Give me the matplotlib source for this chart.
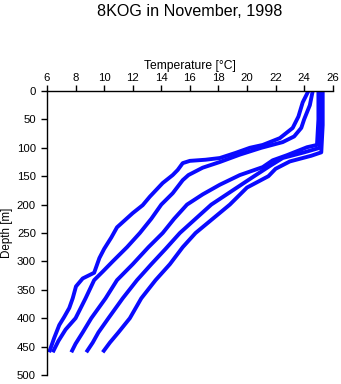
import matplotlib
matplotlib.use("Agg")
import matplotlib.pyplot as plt

plt.rcParams['font.family'] = ['Liberation Sans', 'DejaVu Sans']

title = "8KOG in November, 1998"
xlabel = "Temperature [°C]"
ylabel = "Depth [m]"
xticks = [6, 8, 10, 12, 14, 16, 18, 20, 22, 24, 26]
yticks = [0, 50, 100, 150, 200, 250, 300, 350, 400, 450, 500]

# Profile 1 (leftmost at depth)
t1 = [24.3, 23.9, 23.6, 23.2, 22.3, 21.1, 20.2, 19.2, 18.1, 17.1, 16.0, 15.5, 15.15, 14.8,
      14.1, 13.2, 12.7, 12.0, 10.9, 10.5, 10.0, 9.67, 9.3, 8.5, 8.03, 7.8, 7.56, 7.2, 6.86, 6.5, 6.15]
d1 = [0, 20, 45, 65, 83, 95, 100, 109, 118, 121, 123, 127, 139, 148,
      162, 186, 201, 215, 240, 258, 278, 294, 320, 330, 344, 365, 382, 398, 412, 435, 460]

# Profile 2
t2 = [24.6, 24.4, 24.0, 23.8, 23.3, 22.5, 21.0, 19.5, 18.1, 16.9, 15.9, 15.5, 14.8, 14.0, 13.3,
      12.5, 11.6, 10.6, 9.9, 9.3, 8.7, 8.0, 7.3, 6.8, 6.4]
d2 = [0, 25, 50, 65, 80, 90, 100, 112, 125, 135, 148, 157, 180, 200, 225,
      250, 275, 300, 318, 333, 365, 400, 420, 440, 460]

# Profile 3
t3 = [25.0, 25.0, 24.9, 24.2, 22.8, 21.8, 21.1, 19.5, 18.1, 16.9, 15.8, 14.9, 14.1,
      13.1, 12.0, 10.9, 10.1, 9.1, 8.5, 8.0, 7.7]
d3 = [0, 50, 95, 99, 113, 122, 134, 148, 165, 182, 200, 225, 250,
      275, 305, 333, 365, 400, 425, 445, 460]

# Profile 4
t4 = [25.2, 25.2, 25.1, 24.0, 22.5, 21.6, 20.5, 19.0, 17.5, 16.4, 15.3, 14.3, 13.3,
      12.3, 11.3, 10.3, 9.6, 9.2, 8.75]
d4 = [0, 50, 100, 108, 118, 132, 150, 175, 200, 225, 250, 278, 305,
      333, 365, 400, 425, 443, 460]

# Profile 5 (rightmost at depth)
t5 = [25.3, 25.3, 25.2, 24.5, 23.0, 22.0, 21.5, 20.0, 18.8, 17.6, 16.4, 15.5,
      14.6, 13.6, 12.6, 11.8, 11.0, 10.4, 9.9]
d5 = [0, 60, 108, 114, 124, 137, 150, 170, 200, 225, 250, 275,
      305, 333, 365, 400, 425, 443, 460]

profiles = [(t1, d1), (t2, d2), (t3, d3), (t4, d4), (t5, d5)]

fig = plt.figure(figsize=(3.41, 3.84), dpi=100)
ax = fig.add_axes([47 / 341, 1 - 375 / 384, (332.7 - 47) / 341, (375 - 91) / 384])

for t, d in profiles:
    ax.plot(t, d, color='#0a0aff', lw=2.8, solid_capstyle='butt')

ax.set_xlim(6, 26)
ax.set_ylim(500, 0)
ax.set_xticks(xticks)
ax.set_yticks(yticks)
ax.xaxis.set_ticks_position('top')
ax.xaxis.set_label_position('top')
ax.tick_params(direction='out', length=4, width=1, labelsize=8.2, pad=2)
ax.tick_params(axis='y', pad=4)
for s in ['right', 'bottom']:
    ax.spines[s].set_visible(False)
for s in ['left', 'top']:
    ax.spines[s].set_linewidth(1)
ax.set_xlabel(xlabel, fontsize=8.7, labelpad=3)
ax.set_ylabel(ylabel, fontsize=8.4, labelpad=3)
fig.text(0.557, 1 - 12 / 384, title, ha='center', va='center', fontsize=11.6)

fig.savefig("out.png", dpi=100)
